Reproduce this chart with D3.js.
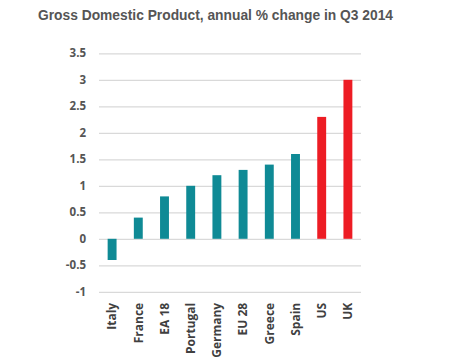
<!DOCTYPE html>
<html><head><meta charset="utf-8">
<script src="https://cdn.jsdelivr.net/npm/d3@7"></script>
<style>body{margin:0;background:#fff}svg{display:block}</style>
</head><body>
<script>
const categories = ["Italy","France","EA 18","Portugal","Germany","EU 28","Greece","Spain","US","UK"];
const values = [-0.4,0.4,0.8,1.0,1.2,1.3,1.4,1.6,2.3,3.0];
const highlight = [false,false,false,false,false,false,false,false,true,true];
const yTicks = [-1,-0.5,0,0.5,1,1.5,2,2.5,3,3.5];
const title = "Gross Domestic Product, annual % change in Q3 2014";

const W=460,H=359;
const svg=d3.select("body").append("svg").attr("width",W).attr("height",H);
const x=d3.scaleBand().domain(categories).range([99,361]).paddingInner(0.66).paddingOuter(0.33);
const y=d3.scaleLinear().domain([-1,3.5]).range([291.8,53.3]);

svg.append("text").attr("x",38).attr("y",20).text(title)
  .attr("font-family","Liberation Sans, Arial, sans-serif").attr("font-weight","bold")
  .attr("font-size",13.8).attr("fill","#555");

const yAxis=d3.axisLeft(y).tickValues(yTicks).tickSize(-(361-99)).tickFormat(d=>String(d));
const gy=svg.append("g").attr("transform","translate(99,0)").call(yAxis);
gy.select(".domain").remove();
gy.selectAll(".tick line").attr("stroke","#d9d9d9").attr("stroke-width",1.3);
gy.selectAll(".tick text").attr("x",-13).attr("font-family","Open Sans, sans-serif")
  .attr("font-weight","bold").attr("font-size",11.5).attr("fill","#555");

svg.append("g").selectAll("rect").data(values).join("rect")
  .attr("x",(d,i)=>x(categories[i])).attr("width",x.bandwidth())
  .attr("y",d=>y(Math.max(0,d))).attr("height",d=>Math.abs(y(d)-y(0)))
  .attr("fill",(d,i)=>highlight[i]?"#ed1c24":"#0f8a95");

const xAxis=d3.axisBottom(x).tickSize(0);
const gx=svg.append("g").attr("transform","translate(0,"+y(-1)+")").call(xAxis);
gx.select(".domain").remove();
gx.selectAll(".tick text").attr("transform","rotate(-90)").attr("text-anchor","end")
  .attr("x",-11).attr("y",0).attr("dy","0.35em")
  .attr("font-family","Open Sans, sans-serif").attr("font-weight","bold")
  .attr("font-size",12).attr("fill","#404040");
</script>
</body></html>
